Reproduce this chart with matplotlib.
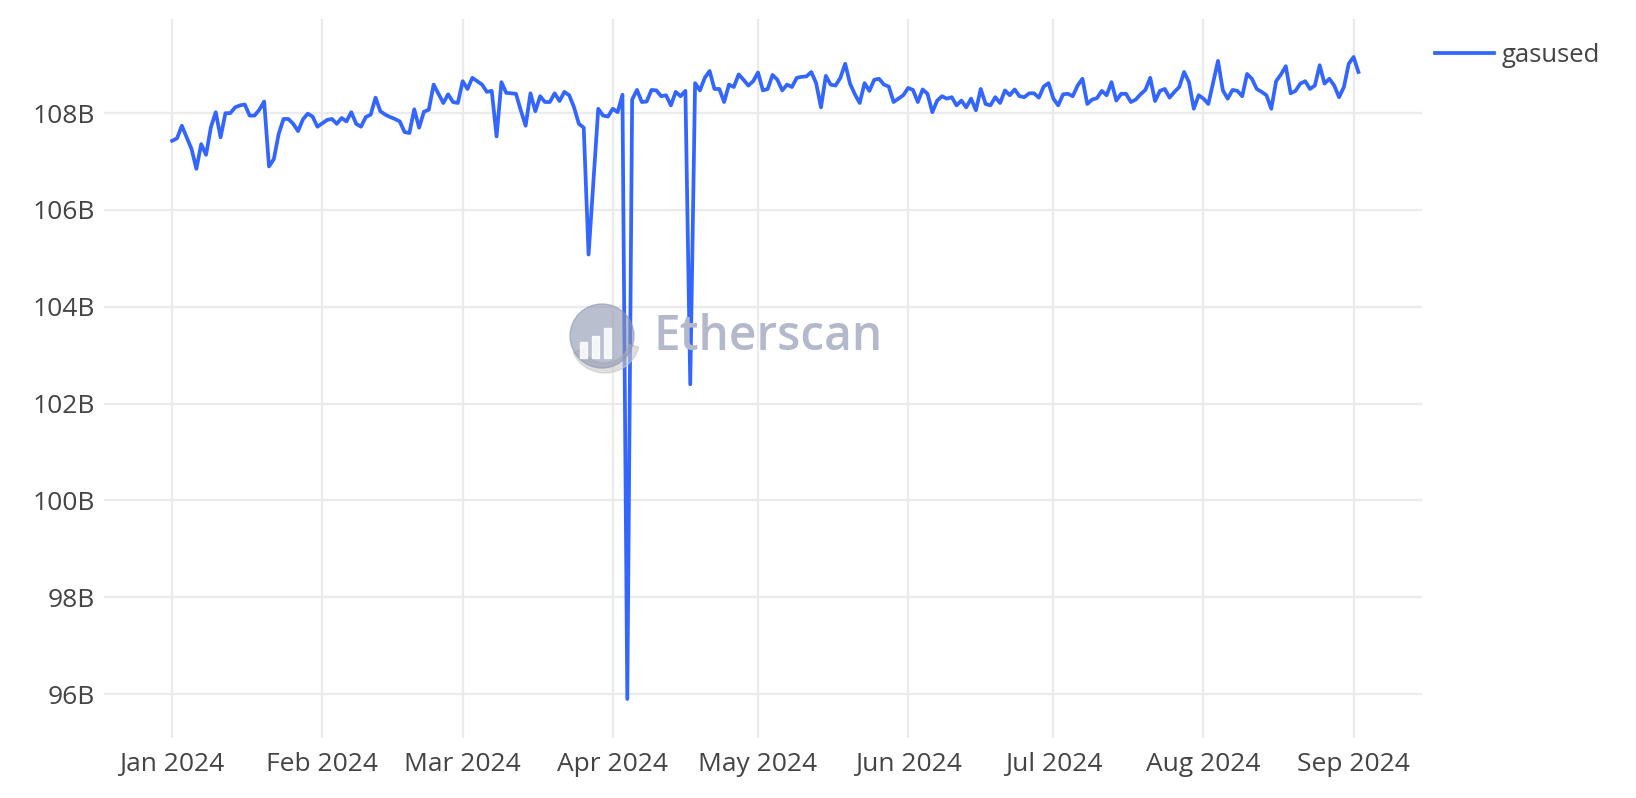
import matplotlib.pyplot as plt
import matplotlib.dates as mdates
from matplotlib.patches import Circle, Wedge, Rectangle
from matplotlib.transforms import IdentityTransform
import pandas as pd

# daily gas used, in billions, Jan 1 2024 onwards
start_date = "2024-01-01"
gas_used_b = [
    107.43, 107.48, 107.74, 107.50, 107.26, 106.85, 107.36, 107.14, 107.71, 108.02,
    107.50, 108.00, 108.00, 108.12, 108.16, 108.18, 107.95, 107.95, 108.07, 108.24,
    106.90, 107.05, 107.57, 107.88, 107.88, 107.78, 107.63, 107.87, 107.99, 107.93,
    107.72, 107.79, 107.86, 107.88, 107.78, 107.90, 107.83, 108.02, 107.78, 107.72,
    107.92, 107.97, 108.32, 108.04, 107.97, 107.92, 107.88, 107.83, 107.61, 107.59,
    108.08, 107.70, 108.03, 108.07, 108.59, 108.40, 108.21, 108.39, 108.23, 108.21,
    108.66, 108.50, 108.73, 108.66, 108.59, 108.44, 108.46, 107.52, 108.64, 108.42,
    108.41, 108.40, 108.06, 107.74, 108.41, 108.04, 108.35, 108.23, 108.23, 108.41,
    108.25, 108.44, 108.37, 108.12, 107.78, 107.70, 105.08, 106.60, 108.09, 107.95,
    107.93, 108.09, 108.02, 108.38, 95.90, 108.28, 108.48, 108.23, 108.24, 108.48,
    108.47, 108.35, 108.37, 108.16, 108.44, 108.35, 108.46, 102.40, 108.62, 108.47,
    108.73, 108.87, 108.50, 108.50, 108.23, 108.59, 108.54, 108.80, 108.69, 108.57,
    108.66, 108.84, 108.47, 108.50, 108.79, 108.69, 108.47, 108.59, 108.54, 108.73,
    108.75, 108.76, 108.85, 108.62, 108.12, 108.77, 108.59, 108.57, 108.73, 109.02,
    108.61, 108.39, 108.21, 108.62, 108.46, 108.69, 108.71, 108.59, 108.55, 108.23,
    108.30, 108.37, 108.52, 108.48, 108.23, 108.49, 108.40, 108.02, 108.26, 108.35,
    108.30, 108.33, 108.16, 108.26, 108.12, 108.30, 108.06, 108.50, 108.19, 108.16,
    108.33, 108.21, 108.47, 108.37, 108.49, 108.35, 108.33, 108.41, 108.41, 108.32,
    108.55, 108.62, 108.30, 108.16, 108.39, 108.40, 108.35, 108.57, 108.71, 108.19,
    108.28, 108.31, 108.46, 108.37, 108.64, 108.26, 108.40, 108.40, 108.23, 108.28,
    108.39, 108.48, 108.73, 108.25, 108.46, 108.50, 108.32, 108.44, 108.54, 108.85,
    108.64, 108.09, 108.37, 108.30, 108.19, 108.64, 109.08, 108.47, 108.30, 108.48,
    108.46, 108.35, 108.81, 108.71, 108.50, 108.44, 108.37, 108.09, 108.66, 108.80,
    108.97, 108.41, 108.46, 108.61, 108.66, 108.50, 108.57, 108.99, 108.61, 108.71,
    108.57, 108.33, 108.54, 109.02, 109.16, 108.85,
]
y_ticks = [96, 98, 100, 102, 104, 106, 108]
series_name = "gasused"

dates = pd.date_range(start_date, periods=len(gas_used_b), freq="D")

plt.rcParams["font.family"] = ["Open Sans", "DejaVu Sans"]
text_color = "#444444"
grid_color = "#ebebeb"
line_color = "#3366ff"

fig = plt.figure(figsize=(16.36, 7.98), dpi=100)
ax = fig.add_axes([0.0638, 0.0756, 0.8056, 0.9009])

# watermark: logo sits over the line (semi transparent), name sits under it
logo_x, logo_y, logo_r = 602, 462, 32
ident = IdentityTransform()
fig.add_artist(Wedge((logo_x + 3, logo_y - 2), logo_r + 3, 205, 345, width=10,
                     transform=ident, color="#c8c8c8", alpha=0.6, zorder=4))
fig.add_artist(Circle((logo_x, logo_y), logo_r, transform=ident,
                      color="#8d95b0", alpha=0.6, zorder=4))
for bx, bh in [(-22, 16), (-10, 22), (2, 30)]:
    fig.add_artist(Rectangle((logo_x + bx, logo_y - 22), 7, bh, transform=ident,
                             color="white", alpha=0.85, zorder=4.1))
fig.text(654 / 1636, 460 / 798, "Etherscan", fontsize=34.5, fontweight="semibold",
         color="#b3b8ca", ha="left", va="center", zorder=0.8)

ax.plot(dates, gas_used_b, color=line_color, linewidth=2.7, label=series_name, zorder=3)

ax.set_xlim(pd.Timestamp(start_date) - pd.Timedelta(days=14),
            pd.Timestamp(start_date) + pd.Timedelta(days=258.2))
ax.set_ylim(95.1, 109.95)
ax.set_yticks(y_ticks)
ax.yaxis.set_major_formatter(plt.FuncFormatter(lambda v, p: f"{v:.0f}B"))
ax.xaxis.set_major_locator(mdates.MonthLocator())
ax.xaxis.set_major_formatter(mdates.DateFormatter("%b %Y"))

ax.grid(True, color=grid_color, linewidth=1.6)
ax.set_axisbelow(True)
ax.patch.set_alpha(0)
for s in ax.spines.values():
    s.set_visible(False)
ax.tick_params(length=0, labelsize=19, colors=text_color)
ax.tick_params(axis="y", pad=7)
ax.tick_params(axis="x", pad=10)

leg = ax.legend(loc="upper left", bbox_to_anchor=(1.001, 0.982), frameon=False,
                fontsize=18.5, handlelength=2.3, handletextpad=0.3,
                borderaxespad=0.05)
for t in leg.get_texts():
    t.set_color(text_color)

fig.savefig("out.png", dpi=100)
